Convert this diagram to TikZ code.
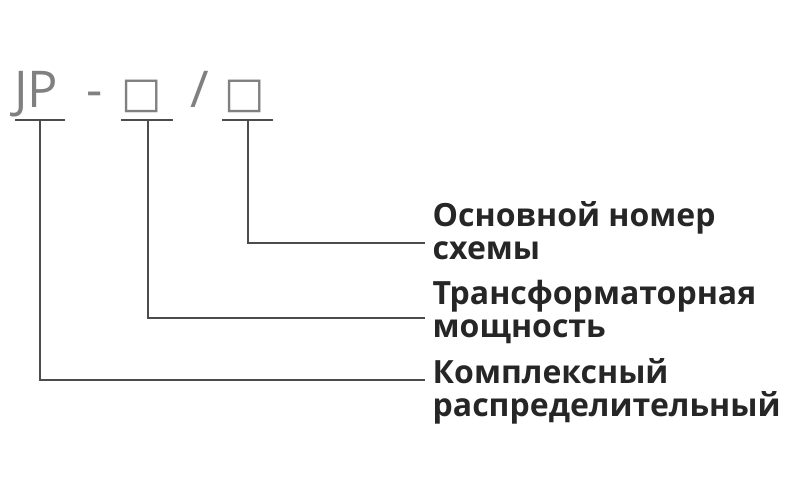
\documentclass[tikz,border=0pt]{standalone}
\usepackage{fontspec}
\setmainfont{Open Sans}
\usepackage{tikz}
\tikzset{
  lbl/.style={anchor=west,align=left,font=\fontsize{24}{24.8}\selectfont\bfseries,text=black!85},
  codetxt/.style={anchor=base west,font=\fontsize{38}{40}\selectfont,text=black!50,inner sep=0pt},
  lead/.style={draw=black!70,line width=0.9pt}
}
\begin{document}
\begin{tikzpicture}[x=0.75pt,y=0.75pt,yscale=-1,xscale=1]
\useasboundingbox (0,0) rectangle (800,500);

% Code text
\node[codetxt] (jp) at (14,107) {JP};
\node[codetxt] (dash) at (86,107) {-};
\node[codetxt] (bx1) at (121,107) {\fontspec{DejaVu Sans}\fontsize{32}{34}\selectfont □};
\node[codetxt] (sl) at (190,107) {/};
\node[codetxt] (bx2) at (224,107) {\fontspec{DejaVu Sans}\fontsize{32}{34}\selectfont □};

% Underlines and corners
\coordinate (u1l) at (15,120); \coordinate (u1r) at (65,120);
\coordinate (u2l) at (121,120); \coordinate (u2r) at (173,120);
\coordinate (u3l) at (222,120); \coordinate (u3r) at (273,120);
\coordinate (c1) at (40,380); \coordinate (c2) at (148,318); \coordinate (c3) at (248,243);

% Labels
\node[lbl] (sch) at (428,231) {Основной номер\\схемы};
\node[lbl] (tr) at (428,312) {Трансформаторная\\мощность};
\node[lbl] (kr) at (428,391) {Комплексный\\распределительный};

\draw[lead] (u1l) -- (u1r);
\draw[lead] (u2l) -- (u2r);
\draw[lead] (u3l) -- (u3r);
\draw[lead] (40,120) -- (c1) -- (425,380);
\draw[lead] (148,120) -- (c2) -- (425,318);
\draw[lead] (248,120) -- (c3) -- (425,243);
\end{tikzpicture}
\end{document}
